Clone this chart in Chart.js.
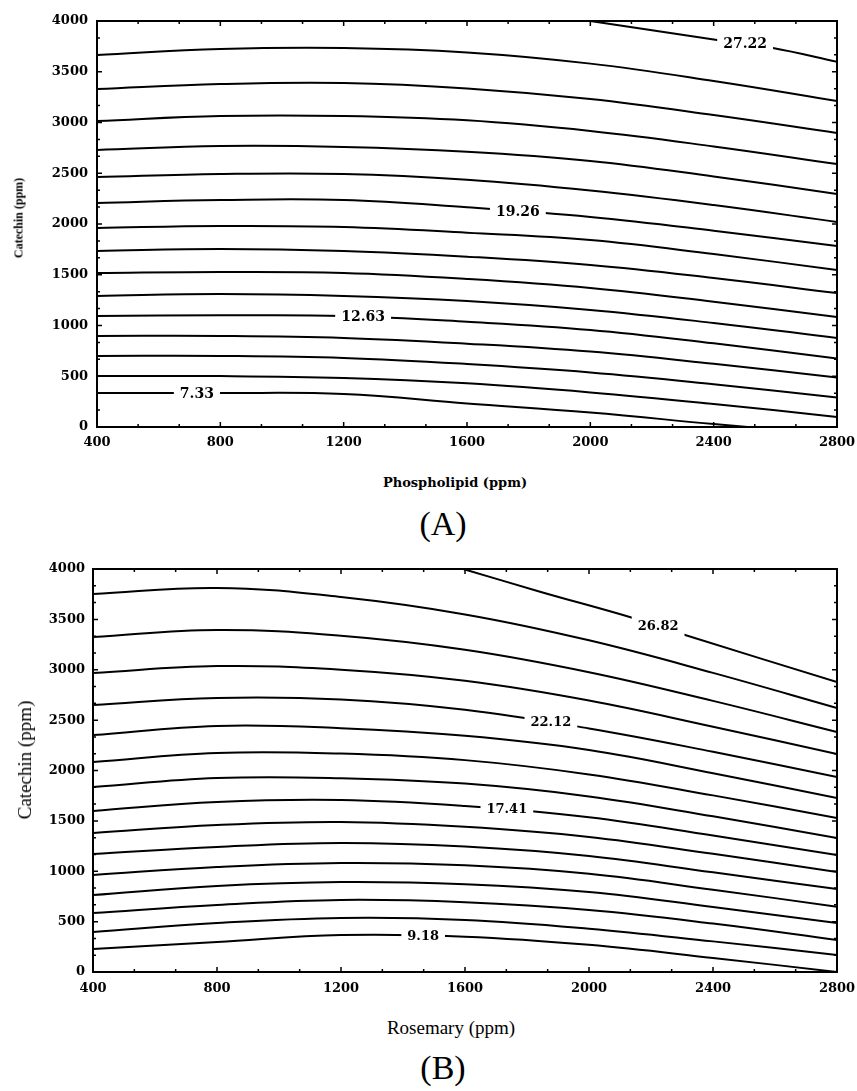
<!DOCTYPE html>
<html lang="en">
<head>
<meta charset="utf-8" />
<title>Catechin contour plots</title>
<script src="https://cdn.jsdelivr.net/npm/chart.js@4.4.0/dist/chart.umd.min.js"></script>
<style>
  body { margin: 0; background: #fff; width: 857px; height: 1091px; position: relative; overflow: hidden; }
  .box { position: absolute; left: 0; width: 857px; }
  .txt { position: absolute; transform: translate(-50%, -50%); white-space: nowrap; color: #000; }
  .rot { transform: translate(-50%, -50%) rotate(-90deg); }
</style>
</head>
<body>
<div class="box" style="top:0;height:455px"><canvas id="chartA"></canvas></div>
<div class="box" style="top:548px;height:452px"><canvas id="chartB"></canvas></div>

<div class="txt rot" style="left:19px;top:218px;font:bold 12px 'Liberation Serif'">Catechin (ppm)</div>
<div class="txt" style="left:455px;top:482px;font:bold 13px 'DejaVu Serif'">Phospholipid (ppm)</div>
<div class="txt" style="left:443px;top:524px;font:34px 'Liberation Serif'">(A)</div>

<div class="txt rot" style="left:25px;top:760px;font:19px 'Liberation Serif'">Catechin (ppm)</div>
<div class="txt" style="left:451px;top:1028px;font:19px 'Liberation Serif'">Rosemary (ppm)</div>
<div class="txt" style="left:443px;top:1068px;font:34px 'Liberation Serif'">(B)</div>

<script>
// ---------------- data ----------------
const gridX = [400, 800, 1200, 1600, 2000, 2400, 2800];

// (A) catechin value of each contour along the phospholipid grid
const linesA = [
  [335, 335, 325, 232, 142, 29, null],
  [502, 502, 483, 430, 341, 227, 99],
  [700, 700, 680, 621, 538, 422, 291],
  [897, 897, 877, 821, 743, 623, 488],
  [1094, 1100, 1094, 1037, 956, 824, 675],
  [1291, 1310, 1291, 1241, 1153, 1025, 877],
  [1517, 1527, 1517, 1458, 1369, 1234, 1084],
  [1734, 1754, 1734, 1678, 1596, 1468, 1320],
  [1961, 1980, 1970, 1914, 1842, 1704, 1547],
  [2207, 2236, 2236, 2164, 2069, 1934, 1783],
  [2463, 2493, 2493, 2436, 2330, 2187, 2020],
  [2729, 2768, 2759, 2712, 2621, 2468, 2296],
  [3015, 3064, 3064, 3021, 2916, 2764, 2591],
  [3330, 3379, 3389, 3336, 3231, 3074, 2897],
  [3665, 3724, 3734, 3690, 3580, 3409, 3212]
];
const bottomEndA = [2510, 0];               // where the lowest contour leaves the plot
const topLineAX = [2000, 2411, 2592, 2800];
const topLineAY = [4000, 3813, 3734, 3599];
const labelTextA = ["7.33", "12.63", "19.26", "27.22"];
const labelLineA = [0, 4, 9, 15];
const labelXA = [724, 1263, 1765, 2502];

// (B) catechin value of each contour along the rosemary grid
const linesB = [
  [228, 298, 367, 351, 270, 140, 0],
  [397, 486, 536, 517, 430, 304, 169],
  [586, 665, 715, 692, 615, 481, 318],
  [764, 854, 893, 871, 793, 645, 486],
  [963, 1042, 1082, 1059, 975, 817, 648],
  [1171, 1241, 1280, 1245, 1151, 989, 824],
  [1380, 1459, 1489, 1441, 1341, 1173, 993],
  [1598, 1687, 1707, 1647, 1536, 1355, 1161],
  [1836, 1926, 1924, 1870, 1743, 1545, 1330],
  [2084, 2174, 2168, 2103, 1961, 1753, 1529],
  [2352, 2442, 2420, 2344, 2203, 1973, 1727],
  [2650, 2720, 2705, 2603, 2417, 2186, 1936],
  [2968, 3037, 3000, 2890, 2694, 2434, 2164],
  [3325, 3395, 3338, 3199, 2976, 2691, 2382],
  [3752, 3812, 3722, 3549, 3292, 2969, 2620]
];
const topLineBX = [1594, 1842, 2142, 2310, 2800];
const topLineBY = [4000, 3775, 3514, 3345, 2878];
const labelTextB = ["9.18", "17.41", "22.12", "26.82"];
const labelLineB = [0, 7, 11, 15];
const labelXB = [1465, 1735, 1877, 2223];

const xTicks = [400, 800, 1200, 1600, 2000, 2400, 2800];
const yTicks = [0, 500, 1000, 1500, 2000, 2500, 3000, 3500, 4000];

// ---------------- helpers ----------------
function toPoints(ys, tail) {
  const pts = [];
  ys.forEach((y, i) => { if (y !== null) pts.push({ x: gridX[i], y }); });
  if (tail) pts.push({ x: tail[0], y: tail[1] });
  return pts;
}

function zipPoints(xs, ys) {
  return xs.map((x, i) => ({ x, y: ys[i] }));
}

// y pixel of the drawn curve at pixel px (follows the bezier segments)
function curveY(pts, px) {
  for (let k = 0; k < pts.length - 1; k++) {
    const a = pts[k], b = pts[k + 1];
    if (px < a.x || px > b.x) continue;
    const c1x = a.cp2x ?? a.x, c1y = a.cp2y ?? a.y;
    const c2x = b.cp1x ?? b.x, c2y = b.cp1y ?? b.y;
    const bez = (t, p0, p1, p2, p3) => {
      const u = 1 - t;
      return u * u * u * p0 + 3 * u * u * t * p1 + 3 * u * t * t * p2 + t * t * t * p3;
    };
    let lo = 0, hi = 1;
    for (let i = 0; i < 30; i++) {
      const m = (lo + hi) / 2;
      if (bez(m, a.x, c1x, c2x, b.x) < px) lo = m; else hi = m;
    }
    return bez(lo, a.y, c1y, c2y, b.y);
  }
  return pts[pts.length - 1].y;
}

// frame with small inward ticks, like the printed figure
const framePlugin = {
  id: "frame",
  afterDraw(chart) {
    const { ctx, chartArea: a, scales: { x, y } } = chart;
    ctx.save();
    ctx.strokeStyle = "#000";
    ctx.lineWidth = 1.5;
    ctx.beginPath();
    for (let i = 0; i <= 18; i++) {
      const px = x.getPixelForValue(400 + (i * 400) / 3);
      const len = i % 3 === 0 ? 5 : 3;
      ctx.moveTo(px, a.bottom); ctx.lineTo(px, a.bottom - len);
      ctx.moveTo(px, a.top); ctx.lineTo(px, a.top + len);
    }
    for (let i = 0; i <= 24; i++) {
      const py = y.getPixelForValue((i * 500) / 3);
      const len = i % 3 === 0 ? 5 : 3;
      ctx.moveTo(a.left, py); ctx.lineTo(a.left + len, py);
      ctx.moveTo(a.right, py); ctx.lineTo(a.right - len, py);
    }
    ctx.stroke();
    ctx.lineWidth = 2;
    ctx.strokeRect(a.left, a.top, a.right - a.left, a.bottom - a.top);
    ctx.restore();
  }
};

// contour value labels, sitting in a gap of their line
const labelPlugin = {
  id: "contourLabels",
  afterDatasetsDraw(chart, args, opts) {
    const { ctx, scales: { x } } = chart;
    ctx.save();
    ctx.font = opts.font;
    ctx.textAlign = "center";
    ctx.textBaseline = "middle";
    opts.texts.forEach((text, i) => {
      const pts = chart.getDatasetMeta(opts.lines[i]).data;
      const px = x.getPixelForValue(opts.xs[i]);
      const half = ctx.measureText(text).width / 2 + 6;
      const yl = curveY(pts, px - half), yr = curveY(pts, px + half);
      const yc = curveY(pts, px);
      ctx.fillStyle = "#fff";
      ctx.beginPath();
      ctx.moveTo(px - half, yl - 7);
      ctx.lineTo(px + half, yr - 7);
      ctx.lineTo(px + half, yr + 7);
      ctx.lineTo(px - half, yl + 7);
      ctx.closePath();
      ctx.fill();
      ctx.fillStyle = "#000";
      ctx.fillText(text, px, yc + 1);
    });
    ctx.restore();
  }
};

function lineSet(data) {
  return {
    data,
    borderColor: "#000",
    borderWidth: 2,
    pointRadius: 0,
    fill: false,
    tension: 0.4
  };
}

function buildChart(id, datasets, yWidth, tickPadX, tickPadY, labels) {
  const tickFont = { family: "DejaVu Serif", weight: "bold", size: 13 };
  return new Chart(document.getElementById(id), {
    type: "line",
    data: { datasets },
    plugins: [framePlugin, labelPlugin],
    options: {
      responsive: true,
      maintainAspectRatio: false,
      animation: false,
      parsing: false,
      layout: { padding: { top: 21, right: 20, left: 0, bottom: 0 } },
      plugins: {
        legend: { display: false },
        tooltip: { enabled: false },
        contourLabels: labels
      },
      scales: {
        x: {
          type: "linear",
          min: 400,
          max: 2800,
          afterBuildTicks: (s) => { s.ticks = xTicks.map((v) => ({ value: v })); },
          ticks: { color: "#000", font: tickFont, padding: tickPadX, maxRotation: 0, autoSkip: false, callback: (v) => String(v) },
          grid: { display: false, drawTicks: false },
          border: { display: false },
          afterFit: (s) => { s.height = 28; s.paddingLeft = 0; s.paddingRight = 0; }
        },
        y: {
          type: "linear",
          min: 0,
          max: 4000,
          afterBuildTicks: (s) => { s.ticks = yTicks.map((v) => ({ value: v })); },
          ticks: { color: "#000", font: tickFont, padding: tickPadY, autoSkip: false, callback: (v) => String(v) },
          grid: { display: false, drawTicks: false },
          border: { display: false },
          afterFit: (s) => { s.width = yWidth; s.paddingTop = 0; s.paddingBottom = 0; }
        }
      }
    }
  });
}

// ---------------- chart A ----------------
const setsA = linesA.map((ys, i) => lineSet(toPoints(ys, i === 0 ? bottomEndA : null)));
setsA.push(lineSet(zipPoints(topLineAX, topLineAY)));
buildChart("chartA", setsA, 97, 8, 9, {
  texts: labelTextA, lines: labelLineA, xs: labelXA,
  font: "bold 14px 'DejaVu Serif'"
});

// ---------------- chart B ----------------
const setsB = linesB.map((ys) => lineSet(toPoints(ys, null)));
setsB.push(lineSet(zipPoints(topLineBX, topLineBY)));
buildChart("chartB", setsB, 93, 9, 8, {
  texts: labelTextB, lines: labelLineB, xs: labelXB,
  font: "bold 13px 'DejaVu Serif'"
});
</script>
</body>
</html>
